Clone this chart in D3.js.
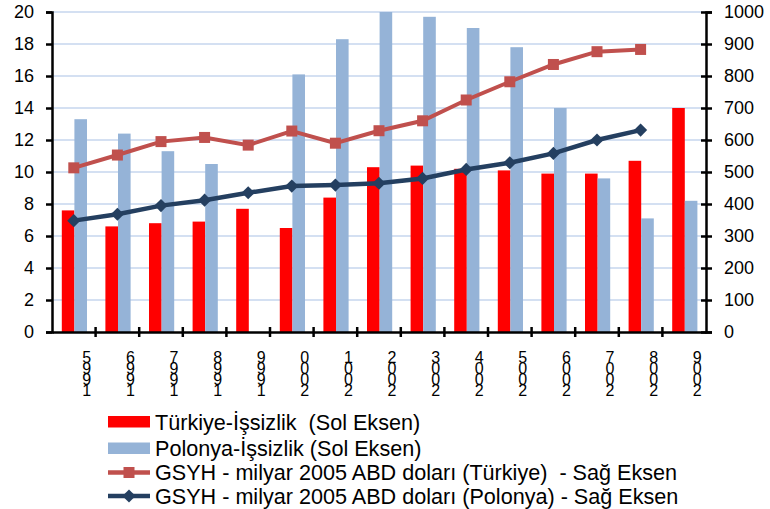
<!DOCTYPE html>
<html>
<head>
<meta charset="utf-8">
<script src="https://cdn.jsdelivr.net/npm/d3@7"></script>
<style>
  body { margin: 0; background: #fff; }
  text { font-family: 'Liberation Sans', Arial, sans-serif; fill: #000; }
</style>
</head>
<body>
<div id="chart"></div>
<script>
// values
const years = ['1995', '1996', '1997', '1998', '1999', '2000', '2001', '2002', '2003', '2004', '2005', '2006', '2007', '2008', '2009']
const trUnemp = [7.6, 6.6, 6.8, 6.9, 7.7, 6.5, 8.4, 10.3, 10.4, 10.2, 10.1, 9.9, 9.9, 10.7, 14.0]
const plUnemp = [13.3, 12.4, 11.3, 10.5, null, 16.1, 18.3, 20.0, 19.7, 19.0, 17.8, 14.0, 9.6, 7.1, 8.2]
const trGdp = [513, 553, 595, 608, 584, 628, 590, 629, 660, 725, 782, 836, 876, 883, null]
const plGdp = [348, 368, 395, 412, 435, 456, 459, 465, 480, 508, 529, 558, 600, 631, null]
const leftTicks = [0, 2, 4, 6, 8, 10, 12, 14, 16, 18, 20]
const rightTicks = [0, 100, 200, 300, 400, 500, 600, 700, 800, 900, 1000]
const legendLabels = [
    'Türkiye-İşsizlik  (Sol Eksen)',
    'Polonya-İşsizlik (Sol Eksen)',
    'GSYH - milyar 2005 ABD doları (Türkiye)  - Sağ Eksen',
    'GSYH - milyar 2005 ABD doları (Polonya) - Sağ Eksen'
]

const width = 770, height = 509
const plot = { left: 52, right: 706, top: 12, bottom: 332 }
const colors = { trBar: '#ff0000', plBar: '#95b3d7', trLine: '#c0504d', plLine: '#243f60', grid: '#c6d6ee' }

const svg = d3.select('#chart').append('svg')
    .attr('width', width)
    .attr('height', height)

const x = d3.scaleBand().domain(years).range([plot.left, plot.right])
const xs = d3.scaleBand().domain(['tr', 'pl']).range([9.8, 35]).padding(0)
const yL = d3.scaleLinear().domain([0, 20]).range([plot.bottom, plot.top])
const yR = d3.scaleLinear().domain([0, 1000]).range([plot.bottom, plot.top])

// gridlines
svg.append('g')
    .selectAll('line')
    .data(leftTicks.filter(d => d > 0))
    .join('line')
    .attr('x1', plot.left)
    .attr('x2', plot.right)
    .attr('y1', d => yL(d))
    .attr('y2', d => yL(d))
    .attr('stroke', colors.grid)
    .attr('stroke-width', 1.5)

// bars
const bars = years.map((yr, i) => ({ yr, tr: trUnemp[i], pl: plUnemp[i] }))
const barG = svg.append('g')
barG.selectAll('rect.tr')
    .data(bars.filter(d => d.tr != null))
    .join('rect')
    .attr('class', 'tr')
    .attr('x', d => x(d.yr) + xs('tr'))
    .attr('width', xs.bandwidth())
    .attr('y', d => yL(d.tr))
    .attr('height', d => yL(0) - yL(d.tr))
    .attr('fill', colors.trBar)
barG.selectAll('rect.pl')
    .data(bars.filter(d => d.pl != null))
    .join('rect')
    .attr('class', 'pl')
    .attr('x', d => x(d.yr) + xs('pl'))
    .attr('width', xs.bandwidth())
    .attr('y', d => yL(d.pl))
    .attr('height', d => yL(0) - yL(d.pl))
    .attr('fill', colors.plBar)

// axes
const leftAxis = svg.append('g')
    .attr('transform', `translate(${plot.left},0)`)
    .call(d3.axisLeft(yL).tickValues(leftTicks).tickSize(6).tickPadding(12))
const rightAxis = svg.append('g')
    .attr('transform', `translate(${plot.right},0)`)
    .call(d3.axisRight(yR).tickValues(rightTicks).tickFormat(d3.format('d')).tickSize(6).tickPadding(12))
rightAxis.selectAll('.tick line').attr('x1', -5)

const bottomAxis = svg.append('g')
    .attr('transform', `translate(0,${plot.bottom})`)
    .call(d3.axisBottom(x).tickValues([]).tickSizeOuter(0))

// category separator ticks
bottomAxis.selectAll('line.sep')
    .data(years.slice(1))
    .join('line')
    .attr('class', 'sep')
    .attr('x1', d => x(d))
    .attr('x2', d => x(d))
    .attr('y1', -5)
    .attr('y2', 5)

;[leftAxis, rightAxis, bottomAxis].forEach(a => {
    a.selectAll('path.domain').attr('stroke', '#000').attr('stroke-width', 2.5)
    a.selectAll('line').attr('stroke', '#000').attr('stroke-width', 2.5)
    a.selectAll('text').style('font-size', '18px').style('font-family', "'Liberation Sans', Arial, sans-serif")
})

// year labels, digits stacked upright top to bottom in reverse order
svg.append('g')
    .selectAll('text')
    .data(years)
    .join('text')
    .attr('x', d => x(d) + x.bandwidth() / 2 + 13)
    .attr('y', plot.bottom + 17)
    .style('font-size', '16px')
    .style('writing-mode', 'vertical-rl')
    .style('text-orientation', 'upright')
    .style('letter-spacing', '-6px')
    .text(d => d.split('').reverse().join(''))

// lines
const lineGen = yScale => d3.line()
    .x(d => x(d.yr) + x.bandwidth() / 2)
    .y(d => yScale(d.v))

const trPts = years.map((yr, i) => ({ yr, v: trGdp[i] })).filter(d => d.v != null)
const plPts = years.map((yr, i) => ({ yr, v: plGdp[i] })).filter(d => d.v != null)

svg.append('path')
    .datum(trPts)
    .attr('d', lineGen(yR))
    .attr('fill', 'none')
    .attr('stroke', colors.trLine)
    .attr('stroke-width', 4)
svg.append('g')
    .selectAll('rect')
    .data(trPts)
    .join('rect')
    .attr('x', d => x(d.yr) + x.bandwidth() / 2 - 5.5)
    .attr('y', d => yR(d.v) - 5.5)
    .attr('width', 11)
    .attr('height', 11)
    .attr('fill', colors.trLine)

svg.append('path')
    .datum(plPts)
    .attr('d', lineGen(yR))
    .attr('fill', 'none')
    .attr('stroke', colors.plLine)
    .attr('stroke-width', 4.5)
svg.append('g')
    .selectAll('path')
    .data(plPts)
    .join('path')
    .attr('d', d3.symbol().type(d3.symbolDiamond2).size(110))
    .attr('transform', d => `translate(${x(d.yr) + x.bandwidth() / 2},${yR(d.v)})`)
    .attr('fill', colors.plLine)

// legend
const legend = svg.append('g').attr('transform', 'translate(108,0)')
const rowY = [422, 448.5, 472.5, 496]
const legendItems = legend.selectAll('g')
    .data(legendLabels)
    .join('g')
    .attr('transform', (d, i) => `translate(0,${rowY[i]})`)

legendItems.filter((d, i) => i < 2)
    .append('rect')
    .attr('x', 0)
    .attr('y', -6)
    .attr('width', 42)
    .attr('height', 11.5)
    .attr('fill', (d, i) => i === 0 ? colors.trBar : colors.plBar)

legendItems.filter((d, i) => i >= 2)
    .append('line')
    .attr('x1', 0)
    .attr('x2', 42)
    .attr('stroke', (d, i) => i === 0 ? colors.trLine : colors.plLine)
    .attr('stroke-width', 4.5)

legendItems.filter((d, i) => i === 2)
    .append('rect')
    .attr('x', 15.5)
    .attr('y', -5.5)
    .attr('width', 11)
    .attr('height', 11)
    .attr('fill', colors.trLine)

legendItems.filter((d, i) => i === 3)
    .append('path')
    .attr('d', d3.symbol().type(d3.symbolDiamond2).size(110))
    .attr('transform', 'translate(21,0)')
    .attr('fill', colors.plLine)

legendItems.append('text')
    .attr('x', 47)
    .attr('y', 7.5)
    .style('font-size', '21.6px')
    .style('white-space', 'pre')
    .text(d => d)
</script>
</body>
</html>
